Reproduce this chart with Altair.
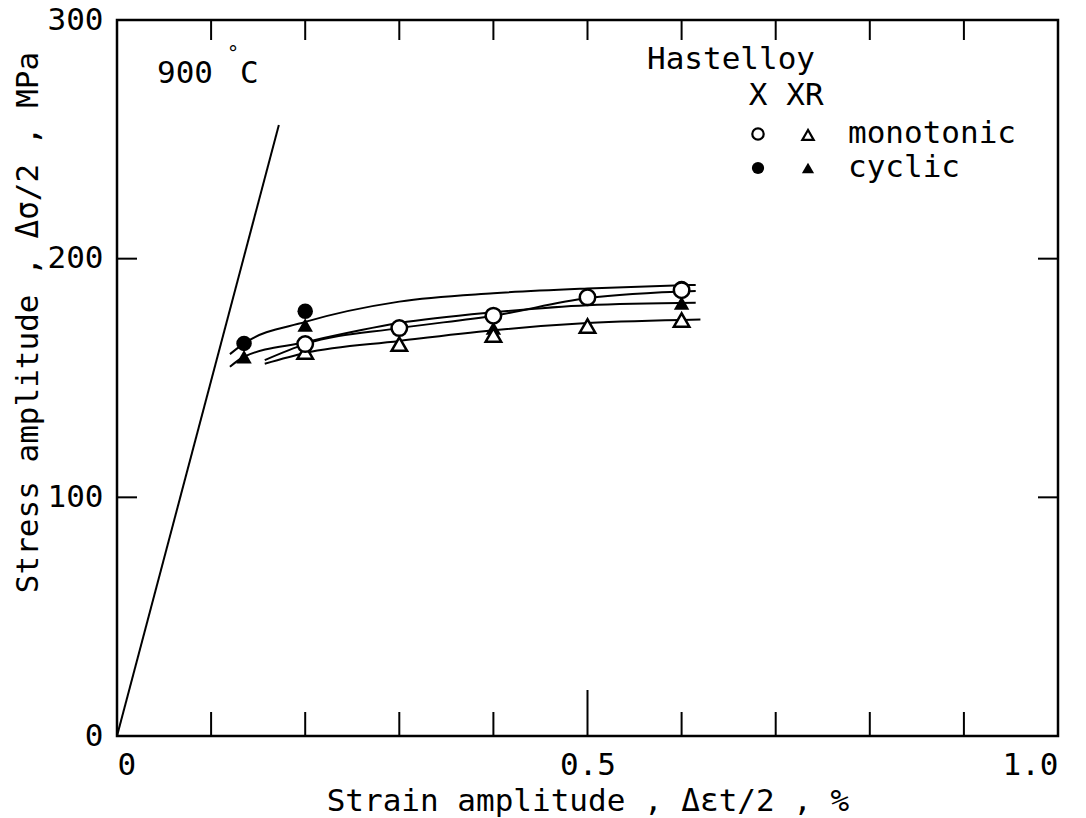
import altair as alt
import pandas as pd

FONT = "DejaVu Sans Mono"
W, H = 941, 716

# ---- data ----
elastic_strain = [0.0, 0.172]
elastic_stress = [0.0, 256.0]

x_cyclic_strain = [0.135, 0.2, 0.6]
x_cyclic_stress = [164.5, 178.0, 187.5]
xr_cyclic_strain = [0.135, 0.2, 0.4, 0.6]
xr_cyclic_stress = [158.9, 172.2, 170.9, 181.4]
x_mono_strain = [0.2, 0.3, 0.4, 0.5, 0.6]
x_mono_stress = [164.2, 170.9, 176.1, 183.8, 186.8]
xr_mono_strain = [0.2, 0.3, 0.4, 0.5, 0.6]
xr_mono_stress = [160.9, 164.2, 168.0, 171.8, 174.3]

curve_x_cyclic_strain = [0.12, 0.135, 0.2, 0.3, 0.4, 0.5, 0.615]
curve_x_cyclic_stress = [160.0, 164.5, 173.5, 182.0, 185.5, 187.5, 189.0]
curve_xr_cyclic_strain = [0.12, 0.135, 0.2, 0.3, 0.4, 0.5, 0.615]
curve_xr_cyclic_stress = [154.7, 158.9, 165.0, 173.0, 177.5, 180.5, 181.5]
curve_x_mono_strain = [0.157, 0.2, 0.3, 0.4, 0.5, 0.615]
curve_x_mono_stress = [157.5, 164.2, 170.9, 176.1, 183.5, 186.5]
curve_xr_mono_strain = [0.157, 0.2, 0.3, 0.4, 0.5, 0.62]
curve_xr_mono_stress = [156.0, 160.5, 165.5, 170.0, 173.0, 174.5]

x_minor_ticks = [0.1, 0.2, 0.3, 0.4, 0.6, 0.7, 0.8, 0.9]
x_major_ticks = [0.5]
x_top_ticks = [0.1, 0.2, 0.3, 0.4, 0.5, 0.6, 0.7, 0.8, 0.9]
y_side_ticks = [100, 200]
x_label_values = [0.0, 0.5, 1.0]
y_label_values = [0, 100, 200, 300]

# ---- encodings ----
x_enc = alt.X(
    "strain:Q",
    scale=alt.Scale(domain=[0, 1], nice=False, zero=False),
    axis=alt.Axis(
        values=x_label_values, ticks=False, domain=False, grid=False,
        labelExpr="datum.value == 0 ? '0' : format(datum.value, '.1f')",
        labelFont=FONT, labelFontSize=31, labelColor="black", labelPadding=14,
        labelFontWeight="normal",
        title="Strain amplitude , Δεt/2 , %", titleFont=FONT, titleFontSize=31,
        titleFontWeight="normal", titleColor="black",
        titleBaseline="alphabetic", titleY=74,
    ),
)
y_enc = alt.Y(
    "stress:Q",
    scale=alt.Scale(domain=[0, 300], nice=False, zero=False),
    axis=alt.Axis(
        values=y_label_values, ticks=False, domain=False, grid=False,
        labelFont=FONT, labelFontSize=31, labelColor="black", labelPadding=14,
        title="Stress amplitude , Δσ/2 , MPa", titleFont=FONT, titleFontSize=31,
        titleFontWeight="normal", titleColor="black",
        titleAngle=270, titleAlign="center", titleBaseline="middle",
        titleX=-89, titleY=302,
    ),
)


def pts(strain, stress):
    return pd.DataFrame({"strain": strain, "stress": stress})


def curve_df(name, strain, stress):
    d = pts(strain, stress)
    d["curve"] = name
    return d


curves = pd.concat([
    curve_df("X cyclic", curve_x_cyclic_strain, curve_x_cyclic_stress),
    curve_df("XR cyclic", curve_xr_cyclic_strain, curve_xr_cyclic_stress),
    curve_df("X monotonic", curve_x_mono_strain, curve_x_mono_stress),
    curve_df("XR monotonic", curve_xr_mono_strain, curve_xr_mono_stress),
])

elastic = alt.Chart(pts(elastic_strain, elastic_stress)).mark_line(
    color="black", strokeWidth=2
).encode(x=x_enc, y=y_enc)

curve_layer = alt.Chart(curves).mark_line(
    color="black", strokeWidth=2, interpolate="monotone"
).encode(x=x_enc, y=y_enc, detail="curve:N")

MS = 240


def filled(strain, stress, shape):
    return alt.Chart(pts(strain, stress)).mark_point(
        shape=shape, filled=True, color="black", opacity=1, size=MS
    ).encode(x=x_enc, y=y_enc)


def hollow(strain, stress, shape):
    return alt.Chart(pts(strain, stress)).mark_point(
        shape=shape, filled=True, fill="white", stroke="black",
        strokeWidth=2.5, opacity=1, size=MS
    ).encode(x=x_enc, y=y_enc)


def xticks(vals, top, length):
    d = pd.DataFrame({"strain": vals})
    if top:
        return alt.Chart(d).mark_rule(color="black", strokeWidth=2).encode(
            x=x_enc, y=alt.value(0), y2=alt.value(length))
    return alt.Chart(d).mark_rule(color="black", strokeWidth=2).encode(
        x=x_enc, y=alt.value(H), y2=alt.value(H - length))


def yticks(vals, right, length):
    d = pd.DataFrame({"stress": vals})
    if right:
        return alt.Chart(d).mark_rule(color="black", strokeWidth=2).encode(
            y=y_enc, x=alt.value(W - length), x2=alt.value(W))
    return alt.Chart(d).mark_rule(color="black", strokeWidth=2).encode(
        y=y_enc, x=alt.value(0), x2=alt.value(length))


one = pd.DataFrame({"k": [0]})


def label(text, x, y, size=31, align="left", baseline="alphabetic"):
    return alt.Chart(one).mark_text(
        text=text, font=FONT, fontSize=size, align=align, baseline=baseline,
        color="black"
    ).encode(x=alt.value(x), y=alt.value(y))


def legend_mark(shape, x, y, hollow_mark):
    if hollow_mark:
        m = alt.Chart(one).mark_point(shape=shape, filled=True, fill="white",
                                      stroke="black", strokeWidth=2.2,
                                      opacity=1, size=130)
    else:
        m = alt.Chart(one).mark_point(shape=shape, filled=True, color="black",
                                      opacity=1, size=150)
    return m.encode(x=alt.value(x), y=alt.value(y))


layers = [
    elastic,
    curve_layer,
    filled(x_cyclic_strain, x_cyclic_stress, "circle"),
    filled(xr_cyclic_strain, xr_cyclic_stress, "triangle-up"),
    hollow(xr_mono_strain, xr_mono_stress, "triangle-up"),
    hollow(x_mono_strain, x_mono_stress, "circle"),
    xticks(x_minor_ticks, False, 24),
    xticks(x_major_ticks, False, 46),
    xticks(x_top_ticks, True, 20),
    yticks(y_side_ticks, False, 20),
    yticks(y_side_ticks, True, 20),
    # annotations
    label("900", 40, 63),
    label("°", 116, 40, size=20, align="center"),
    label("C", 123, 63),
    label("Hastelloy", 698, 49, align="right"),
    label("X", 641, 85, align="center"),
    label("XR", 688, 85, align="center"),
    legend_mark("circle", 641, 114, True),
    legend_mark("triangle-up", 691, 115, True),
    label("monotonic", 731, 114, baseline="middle"),
    legend_mark("circle", 641, 148, False),
    legend_mark("triangle-up", 691, 148, False),
    label("cyclic", 731, 148, baseline="middle"),
]

chart = alt.layer(*layers).properties(
    width=W, height=H,
    padding={"left": 117, "top": 20, "right": 28, "bottom": 82},
    autosize="none",
    background="white",
).configure_view(stroke="black", strokeWidth=2.5)

chart.save("out.html", embed_options={"renderer": "svg", "actions": False})
